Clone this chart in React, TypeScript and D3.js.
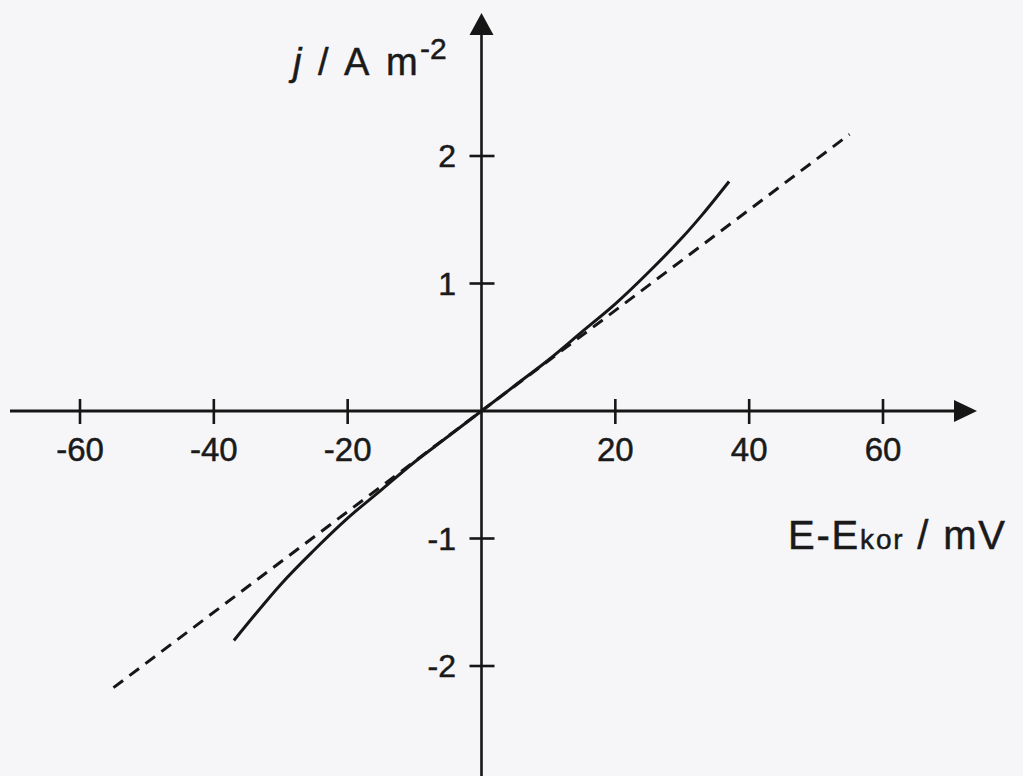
import React from 'react';
import * as d3 from 'd3';

// Polarization curve near the corrosion potential
const potentialMv = [-37, -30, -25, -20, -15, -10, -5, 0, 5, 10, 15, 20, 25, 30, 33, 37];
const currentDensity = [-1.8, -1.36, -1.09, -0.84, -0.62, -0.4, -0.2, 0, 0.2, 0.4, 0.62, 0.84, 1.09, 1.36, 1.54, 1.8];

// Linear (Stern–Geary) approximation through the origin
const linearMv = [-55, 55];
const linearJ = [-2.17, 2.17];

const xTickValues = [-60, -40, -20, 20, 40, 60];
const yTickValues = [-2, -1, 1, 2];

const W = 1023;
const H = 776;
const INK = '#161616';
const TEXT = '#1a1a1a';
const FONT = '"Liberation Sans", Arial, sans-serif';

export default function App() {
  const x = d3.scaleLinear().domain([-60, 60]).range([80, 883]);
  const y = d3.scaleLinear().domain([-2, 2]).range([666, 156]);
  const x0 = x(0);
  const y0 = y(0);

  const curve = d3
    .line<number>()
    .x((_, i) => x(potentialMv[i]))
    .y((d) => y(d))
    .curve(d3.curveCatmullRom.alpha(0.5));

  const straight = d3
    .line<number>()
    .x((_, i) => x(linearMv[i]))
    .y((d) => y(d));

  const textProps = {
    fontFamily: FONT,
    fill: TEXT,
    stroke: TEXT,
    strokeWidth: 0.5,
  };

  return (
    <svg
      width={W}
      height={H}
      viewBox={`0 0 ${W} ${H}`}
      style={{ position: 'absolute', left: 0, top: 0, background: '#f6f6f8' }}
    >
      <rect x={0} y={0} width={W} height={H} fill="#f6f6f8" />

      {/* horizontal axis with arrow */}
      <line x1={10} y1={y0} x2={956} y2={y0} stroke={INK} strokeWidth={3} />
      <polygon points={`977,${y0} 954,${y0 - 11} 954,${y0 + 11}`} fill={INK} />

      {/* vertical axis with arrow */}
      <line x1={x0} y1={H} x2={x0} y2={33} stroke={INK} strokeWidth={2.6} />
      <polygon points={`${x0},13 ${x0 - 12},35 ${x0 + 12},35`} fill={INK} />

      {/* x ticks */}
      {xTickValues.map((t) => (
        <g key={`x${t}`}>
          <line x1={x(t)} x2={x(t)} y1={y0 - 12} y2={y0 + 13} stroke={INK} strokeWidth={2.6} />
          <text x={x(t)} y={461} textAnchor="middle" fontSize={33} {...textProps}>
            {t}
          </text>
        </g>
      ))}

      {/* y ticks */}
      {yTickValues.map((t) => (
        <g key={`y${t}`}>
          <line x1={x0 - 12} x2={x0 + 13} y1={y(t)} y2={y(t)} stroke={INK} strokeWidth={2.6} />
          <text x={456} y={y(t) + 11} textAnchor="end" fontSize={32} {...textProps}>
            {t}
          </text>
        </g>
      ))}

      {/* linear approximation */}
      <path
        d={straight(linearJ) ?? ''}
        fill="none"
        stroke={INK}
        strokeWidth={3}
        strokeDasharray="12 8"
      />

      {/* measured curve */}
      <path d={curve(currentDensity) ?? ''} fill="none" stroke={INK} strokeWidth={3} />

      {/* y axis title */}
      <text y={75} fontSize={38} {...textProps}>
        <tspan x={293} fontStyle="italic">j</tspan>
        <tspan x={318}>/</tspan>
        <tspan x={344}>A</tspan>
        <tspan x={386}>m</tspan>
        <tspan x={420} y={59} fontSize={30}>-2</tspan>
      </text>

      {/* x axis title */}
      <text x={788} y={549} fontSize={40} textLength={217} lengthAdjust="spacing" {...textProps}>
        E-E<tspan fontSize={28}>kor</tspan> / mV
      </text>
    </svg>
  );
}
